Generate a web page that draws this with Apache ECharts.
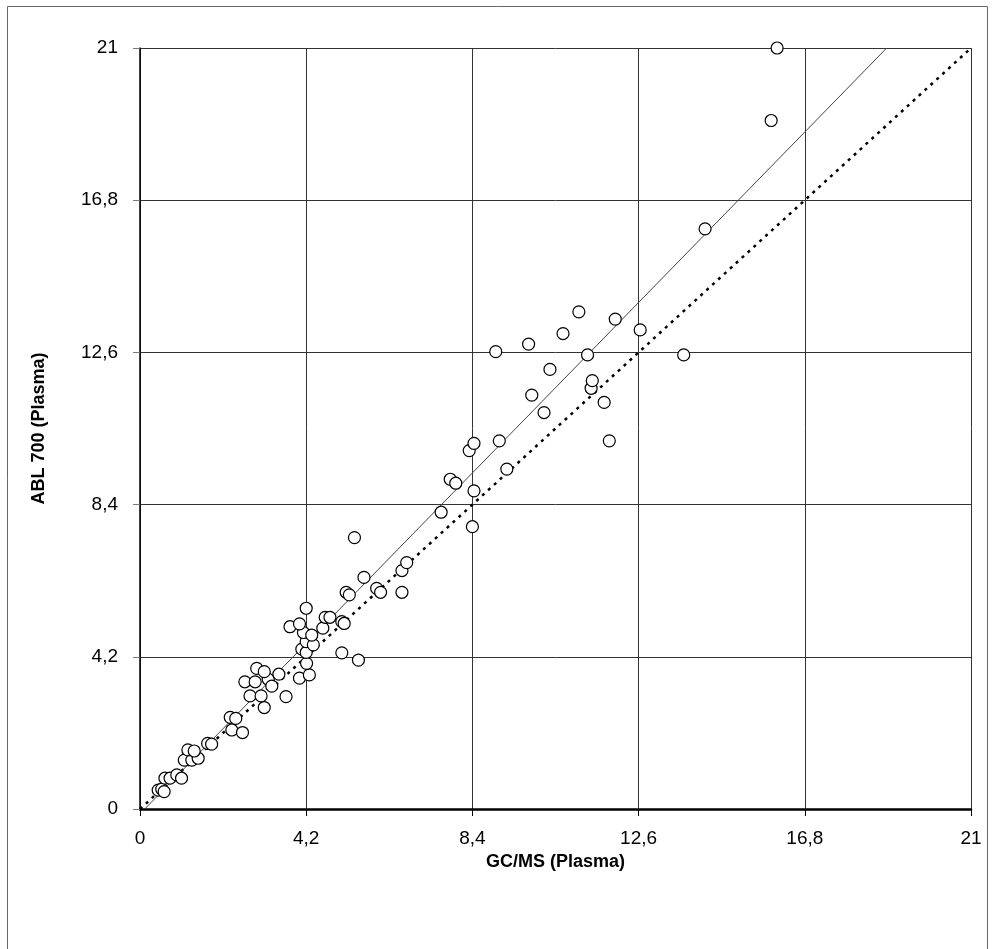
<!DOCTYPE html>
<html>
<head>
<meta charset="utf-8">
<script src="https://cdn.jsdelivr.net/npm/echarts@6/dist/echarts.min.js"></script>
<style>
  html, body { margin: 0; padding: 0; background: #fff; }
  #vis { width: 994px; height: 949px; }
</style>
</head>
<body>
<div id="vis"></div>
<script>
// GC/MS (x) vs ABL 700 (y), both plasma
const gcms = [
  0.46, 0.55, 0.61, 0.63, 0.76, 0.93, 1.05, 1.12, 1.31, 1.47,
  1.21, 1.37, 1.71, 1.81, 2.32, 2.59, 2.28, 2.42, 2.78, 3.06,
  3.14, 2.65, 2.91, 3.24, 3.33, 2.95, 3.14, 3.51, 3.69, 4.03,
  4.28, 4.21, 4.09, 4.20, 4.20, 4.38, 4.13, 4.34, 3.79, 4.03,
  4.62, 4.68, 4.80, 5.10, 5.16, 4.20, 5.10, 5.52, 5.21, 5.29,
  5.98, 6.08, 6.62, 5.66, 6.62, 6.74, 5.42, 7.61, 8.40, 8.44,
  7.84, 7.98, 9.27, 8.32, 8.44, 9.08, 11.86, 10.21, 11.73, 9.90,
  11.40, 11.43, 10.36, 8.99, 11.31, 13.74, 9.82, 10.69, 12.64, 12.01,
  11.09, 14.28, 15.95, 16.10
];
const abl = [
  0.52, 0.55, 0.48, 0.85, 0.85, 0.94, 0.85, 1.35, 1.35, 1.40,
  1.63, 1.60, 1.81, 1.79, 2.18, 2.11, 2.53, 2.50, 3.12, 3.12,
  2.80, 3.51, 3.51, 3.58, 3.39, 3.88, 3.79, 3.72, 3.10, 3.61,
  3.70, 4.02, 4.41, 4.32, 4.62, 4.53, 4.87, 4.80, 5.03, 5.11,
  4.99, 5.29, 5.29, 5.17, 5.12, 5.54, 4.31, 4.11, 5.98, 5.91,
  6.09, 5.98, 5.98, 6.39, 6.58, 6.80, 7.49, 8.19, 7.79, 8.78,
  9.10, 8.99, 9.38, 9.89, 10.09, 10.16, 10.16, 10.94, 11.22, 11.42,
  11.61, 11.82, 12.13, 12.62, 12.53, 12.53, 12.83, 13.12, 13.22, 13.52,
  13.72, 16.01, 19.0, 21.0
];

// regression line end points and line of identity
const fitX = [0.12, 18.87];
const fitY = [0.0, 21.0];
const identX = [0, 21];
const identY = [0, 21];

const tickLabels = ['0', '4,2', '8,4', '12,6', '16,8', '21'];
const tickStep = 4.2;

const FONT = 'Liberation Sans, Arial, sans-serif';

function pairs(xs, ys) {
  return xs.map((x, i) => [x, ys[i]]);
}

function labelFor(v) {
  const idx = Math.round(v / tickStep);
  return tickLabels[idx] !== undefined ? tickLabels[idx] : '';
}

const chart = echarts.init(document.getElementById('vis'), null, {renderer: 'canvas'});

const options = {
  backgroundColor: '#fff',
  animation: false,
  graphic: [{
    type: 'rect',
    shape: {x: 7.5, y: 6.5, width: 980, height: 980},
    style: {fill: null, stroke: '#666', lineWidth: 1},
    silent: true
  }],
  grid: {left: 140, right: 23, top: 48, bottom: 140},
  xAxis: {
    type: 'value',
    min: 0,
    max: 21,
    interval: tickStep,
    name: 'GC/MS (Plasma)',
    nameLocation: 'middle',
    nameGap: 35,
    nameTextStyle: {fontFamily: FONT, fontSize: 18, fontWeight: 'bold', color: '#000'},
    axisLine: {show: true, onZero: false, lineStyle: {color: '#000', width: 2.5}},
    axisTick: {show: true, length: 7, lineStyle: {color: '#000', width: 1}},
    axisLabel: {
      margin: 20,
      fontFamily: FONT, fontSize: 19, color: '#000',
      formatter: labelFor
    },
    splitLine: {show: true, lineStyle: {color: '#333', width: 1}}
  },
  yAxis: {
    type: 'value',
    min: 0,
    max: 21,
    interval: tickStep,
    name: 'ABL 700 (Plasma)',
    nameLocation: 'middle',
    nameGap: 92,
    nameTextStyle: {fontFamily: FONT, fontSize: 18, fontWeight: 'bold', color: '#000'},
    axisLine: {show: true, onZero: false, lineStyle: {color: '#000', width: 1.5}},
    axisTick: {show: true, length: 7, lineStyle: {color: '#777', width: 1}},
    axisLabel: {
      margin: 22,
      fontFamily: FONT, fontSize: 19, color: '#000',
      formatter: labelFor
    },
    splitLine: {show: true, lineStyle: {color: '#333', width: 1}}
  },
  series: [
    {
      type: 'line',
      data: pairs(identX, identY),
      symbol: 'none',
      lineStyle: {color: '#000', width: 2.5, type: [3, 5]},
      z: 2
    },
    {
      type: 'line',
      data: pairs(fitX, fitY),
      symbol: 'none',
      lineStyle: {color: '#444', width: 1},
      z: 2
    },
    {
      type: 'scatter',
      data: pairs(gcms, abl),
      symbol: 'circle',
      symbolSize: 12,
      itemStyle: {color: '#fff', borderColor: '#000', borderWidth: 1.2, opacity: 1},
      z: 5
    }
  ]
};

chart.setOption(options);
</script>
</body>
</html>
